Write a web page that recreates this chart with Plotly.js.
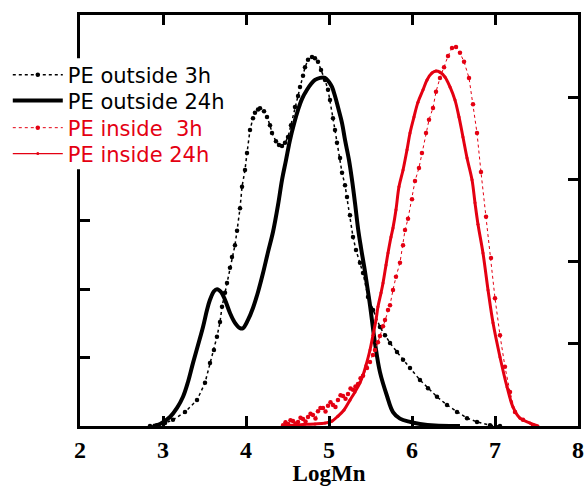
<!DOCTYPE html>
<html>
<head>
<meta charset="utf-8">
<script src="https://cdn.plot.ly/plotly-3.0.1.min.js"></script>
<style>html,body{margin:0;padding:0;background:#fff;}#chart{width:586px;height:486px;}</style>
</head>
<body>
<div id="chart"></div>
<script>
// LogMn values and relative intensity (percent of plot height)
const out3hX = [2.843,2.928,3.024,3.12,3.265,3.41,3.506,3.566,3.614,3.65,3.687,3.711,3.747,3.771,3.807,3.831,3.867,3.892,3.928,3.952,3.988,4.012,4.048,4.084,4.108,4.145,4.169,4.217,4.253,4.289,4.313,4.361,4.398,4.434,4.47,4.506,4.542,4.59,4.627,4.651,4.687,4.711,4.747,4.795,4.831,4.867,4.904,4.952,4.988,5.012,5.048,5.072,5.096,5.133,5.157,5.193,5.217,5.253,5.289,5.325,5.373,5.41,5.47,5.53,5.614,5.675,5.735,5.819,5.892,5.976,6.096,6.193,6.301,6.422,6.542,6.663,6.783,6.94,7.06];
const out3hY = [0,0.2,0.7,1.5,3.4,6.3,10.5,15.3,18.5,21.7,25.3,29.0,32.4,34.8,38.5,41.1,44.0,47.5,53.0,58.2,62.3,66.4,72.0,74.9,76.2,77.0,77.3,76.6,75.2,73.2,71.3,69.3,68.4,68.1,68.9,70.3,73.2,77.6,80.3,82.5,85.2,87.3,89.1,89.8,89.5,88.6,86.6,84.2,81.8,79.3,74.9,72.0,68.9,65.2,61.6,58.6,55.7,51.3,46.0,42.8,39.7,37.2,31.4,28.2,24.1,22.1,20.2,18.0,16.1,14.1,11.2,9.2,7.1,5.1,3.4,1.9,1.0,0.2,0];

const out24hX = [2.88,2.964,3.084,3.169,3.241,3.301,3.361,3.422,3.482,3.53,3.566,3.614,3.651,3.699,3.747,3.807,3.867,3.928,3.964,4.024,4.084,4.145,4.205,4.265,4.325,4.386,4.434,4.482,4.53,4.578,4.627,4.675,4.735,4.783,4.831,4.892,4.952,5.0,5.036,5.072,5.108,5.157,5.193,5.241,5.277,5.313,5.349,5.386,5.434,5.494,5.554,5.614,5.699,5.771,5.855,5.976,6.096,6.277,6.578];
const out24hY = [0,0.5,2.2,4.4,7.1,10.7,15.3,19.7,24.1,28.2,30.7,32.8,33.3,32.6,30.7,27.5,25.1,23.8,23.8,25.8,28.7,32.6,37.2,42.3,47.2,53.8,59.9,64.7,69.6,73.5,76.9,79.6,81.8,83.2,84.2,84.7,84.7,83.7,82.5,80.3,77.6,73.7,69.6,64.7,59.9,54.3,48.2,43.3,37.5,29.4,20.2,13.1,7.3,3.4,1.8,1.0,0.5,0.1,0];

const in3hX = [4.446,4.476,4.506,4.536,4.566,4.597,4.627,4.657,4.687,4.717,4.747,4.777,4.807,4.837,4.867,4.897,4.928,4.958,4.988,5.018,5.048,5.078,5.108,5.139,5.169,5.199,5.229,5.259,5.289,5.319,5.349,5.38,5.41,5.458,5.494,5.53,5.554,5.59,5.614,5.651,5.675,5.711,5.735,5.771,5.807,5.855,5.892,5.916,5.952,6.0,6.036,6.084,6.12,6.169,6.205,6.253,6.289,6.337,6.386,6.434,6.482,6.53,6.578,6.627,6.687,6.735,6.783,6.831,6.892,6.952,7.0,7.06,7.12,7.181,7.241,7.337,7.458];
const in3hY = [0.2,0.9,0.5,1.4,1.2,0.6,1.0,2.0,1.7,1.1,2.2,3.0,2.7,1.8,3.6,4.4,4.4,3.5,4.9,5.8,5.1,4.6,6.3,7.5,7.3,6.6,7.8,9.1,8.8,9.6,10.2,11.6,12.2,14.1,15.6,17.3,18.5,20.4,21.9,24.3,25.8,28.2,29.4,33.1,36.3,39.7,44.0,47.7,50.4,55.2,59.6,62.8,66.4,71.3,74.5,77.4,81.3,84.7,87.3,90.0,92.0,92.2,90.8,88.6,84.7,78.3,71.3,61.8,50.9,40.9,31.1,22.1,14.4,8.3,3.4,1.5,0.2];

const in24hX = [4.47,4.59,4.711,4.831,4.952,5.036,5.108,5.181,5.253,5.313,5.373,5.41,5.446,5.494,5.53,5.566,5.59,5.627,5.651,5.687,5.711,5.747,5.771,5.807,5.843,5.892,5.94,5.976,6.024,6.072,6.133,6.181,6.241,6.289,6.337,6.398,6.458,6.518,6.566,6.614,6.663,6.723,6.759,6.795,6.855,6.916,6.976,7.06,7.145,7.217,7.301,7.422,7.518];
const in24hY = [0.2,0.2,0.4,0.5,0.7,1.2,2.4,3.9,6.3,8.3,10.5,12.4,14.8,18.5,22.1,25.8,29.0,32.4,34.8,39.2,42.1,46.0,48.2,52.6,58.2,62.3,67.2,71.3,75.2,78.8,81.8,84.2,85.9,86.4,86.1,84.9,82.5,79.3,75.2,70.3,65.2,59.9,54.3,49.1,42.1,33.1,25.1,16.8,9.5,4.6,1.9,0.7,0];

const xTickVals = [2,3,4,5,6,7,8];
const xTickText = ['2','3','4','5','6','7','8'];
const seriesNames = ['PE outside 3h','PE outside 24h','PE inside\u00a0 3h','PE inside 24h'];

const RED = 'rgb(228,0,18)';

const traces = [
  {x: out3hX, y: out3hY, name: seriesNames[0], legend: 'legend', mode: 'lines+markers',
   line: {color: 'black', width: 1.5, dash: 'dot'}, marker: {color: 'black', size: 4.5}},
  {x: out24hX, y: out24hY, name: seriesNames[1], legend: 'legend2', mode: 'lines',
   line: {color: 'black', width: 4, shape: 'spline'}},
  {x: in3hX, y: in3hY, name: '<span style="color:' + RED + '">' + seriesNames[2] + '</span>', legend: 'legend3', mode: 'lines+markers',
   line: {color: RED, width: 1, dash: 'dot'}, marker: {color: RED, size: 4.5}},
  {x: in24hX, y: in24hY, showlegend: false, mode: 'lines', hoverinfo: 'skip',
   line: {color: RED, width: 3, shape: 'spline'}},
  {x: in24hX, y: in24hY, name: '<span style="color:' + RED + '">' + seriesNames[3] + '</span>', legend: 'legend4', mode: 'lines+markers',
   line: {color: RED, width: 1.2, shape: 'spline'}, marker: {color: RED, size: 3}},
  {x: [2], y: [0], yaxis: 'y2', showlegend: false, mode: 'markers', marker: {opacity: 0}, hoverinfo: 'skip'}
];

const axisCommon = {
  showgrid: false, zeroline: false, showline: true, linecolor: 'black', linewidth: 3,
  ticks: 'inside', ticklen: 10, tickwidth: 3, tickcolor: 'black'
};

function legendAt(yPaper) {
  return {
    x: -0.145, y: yPaper, xanchor: 'left', yanchor: 'middle',
    bgcolor: 'rgba(0,0,0,0)', borderwidth: 0,
    font: {family: 'DejaVu Sans, sans-serif', size: 21, color: 'black'},
    itemwidth: 50
  };
}

const layout = {
  width: 586, height: 486,
  margin: {l: 80, r: 8, t: 15, b: 60},
  paper_bgcolor: 'white', plot_bgcolor: 'white',
  showlegend: true,
  legend: legendAt(0.854),
  legend2: legendAt(0.791),
  legend3: legendAt(0.725),
  legend4: legendAt(0.662),
  // white backing behind the legend block (hides the left axis there, as in the original)
  shapes: [{type: 'rect', xref: 'paper', yref: 'paper', x0: -0.03, x1: 0.06, y0: 0.625, y1: 0.895,
            fillcolor: 'white', line: {width: 0}, layer: 'above'}],
  xaxis: Object.assign({}, axisCommon, {
    range: [2, 8], tickvals: xTickVals, ticktext: xTickText.map(t => '<b>' + t + '</b>'), mirror: 'ticks',
    tickfont: {family: 'Liberation Serif, Times New Roman, serif', size: 24, color: 'black', weight: 'bold'},
    title: {text: '<b>LogMn</b>', standoff: 2, font: {family: 'Liberation Serif, Times New Roman, serif', size: 23, color: 'black', weight: 'bold'}}
  }),
  yaxis: Object.assign({}, axisCommon, {
    range: [0, 100], tick0: 0, dtick: 100/6, showticklabels: false
  }),
  yaxis2: Object.assign({}, axisCommon, {
    range: [0, 100], tick0: 0, dtick: 20, showticklabels: false,
    overlaying: 'y', side: 'right'
  })
};

Plotly.newPlot('chart', traces, layout, {staticPlot: true, displayModeBar: false});
</script>
</body>
</html>
